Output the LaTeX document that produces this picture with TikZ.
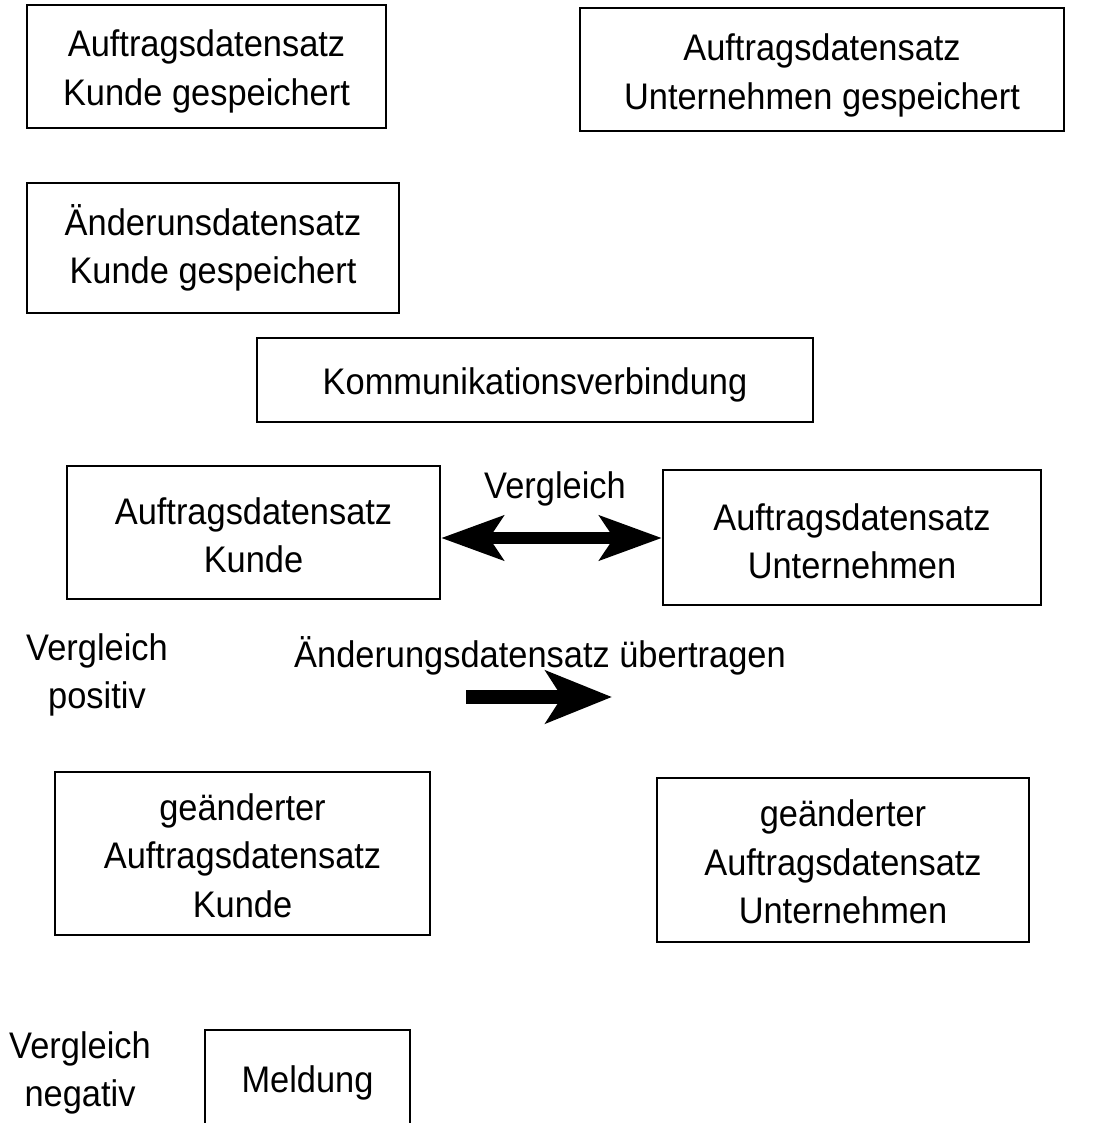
\documentclass[tikz,border=0pt]{standalone}
\usepackage{fontspec}
\setmainfont{Liberation Sans}[FakeStretch=0.93]
\usetikzlibrary{arrows.meta,calc}
\newcommand\fsz{\fontsize{37}{48.5}\selectfont}
\begin{document}
\begin{tikzpicture}[x=1pt,y=-1pt,
  box/.style={draw,line width=2.2pt,inner sep=0pt},
  lbl/.style={align=center,inner sep=0pt,font=\fsz},
  dblarrow/.style={line width=12pt,{Stealth[length=62pt,width=44pt,inset=14pt]}-{Stealth[length=62pt,width=44pt,inset=14pt]}},
  onearrow/.style={line width=14pt,-{Stealth[length=66pt,width=52pt,inset=16pt]}}]
\useasboundingbox (0,0) rectangle (1099,1123);
\fill[white] (0,0) rectangle (1099,1123);

\node[box,minimum width=359pt,minimum height=123pt,
  label={[lbl,yshift=-5pt]center:Auftragsdatensatz\\Kunde gespeichert}] (b1) at (206.5,66.5) {};
\node[box,minimum width=484pt,minimum height=123pt,
  label={[lbl,yshift=-6pt]center:Auftragsdatensatz\\Unternehmen gespeichert}] (b2) at (822,69.5) {};
\node[box,minimum width=372pt,minimum height=130pt,
  label={[lbl]center:Änderunsdatensatz\\Kunde gespeichert}] (b3) at (213,248) {};
\node[box,minimum width=556pt,minimum height=84pt,
  label={[lbl,yshift=-5pt]center:Kommunikationsverbindung}] (b4) at (535,380) {};
\node[box,minimum width=373pt,minimum height=133pt,
  label={[lbl,yshift=-3pt]center:Auftragsdatensatz\\Kunde}] (b5) at (253.5,532.5) {};
\node[box,minimum width=378pt,minimum height=135pt,
  label={[lbl,yshift=-4pt]center:Auftragsdatensatz\\Unternehmen}] (b6) at (852,537.5) {};
\node[box,minimum width=375pt,minimum height=163pt,
  label={[lbl,yshift=-2pt]center:geänderter\\Auftragsdatensatz\\Kunde}] (b7) at (242.5,853.5) {};
\node[box,minimum width=372pt,minimum height=164pt,
  label={[lbl,yshift=-2pt]center:geänderter\\Auftragsdatensatz\\Unternehmen}] (b8) at (843,860) {};
\node[inner sep=0pt,minimum width=205pt,minimum height=100pt,
  label={[lbl,yshift=-3pt]center:Meldung}] (b9) at (307.5,1080) {};
\draw[line width=2.2pt] (b9.south west) -- (b9.north west) -- (b9.north east) -- (b9.south east);

\node[lbl] (vgl) at (555,489) {Vergleich};
\node[lbl] (vpos) at (97,675) {Vergleich\\positiv};
\node[lbl] (aend) at (540,656) {Änderungsdatensatz übertragen};
\node[lbl] (vneg) at (80,1073) {Vergleich\\negativ};

\draw[dblarrow] ([yshift=-5.5pt]b5.east) -- ([yshift=-5.5pt]b5.east -| b6.west);

\coordinate (a1) at (466,697);
\coordinate (a2) at (612,697);
\draw[onearrow] (a1) -- (a2);
\end{tikzpicture}
\end{document}
